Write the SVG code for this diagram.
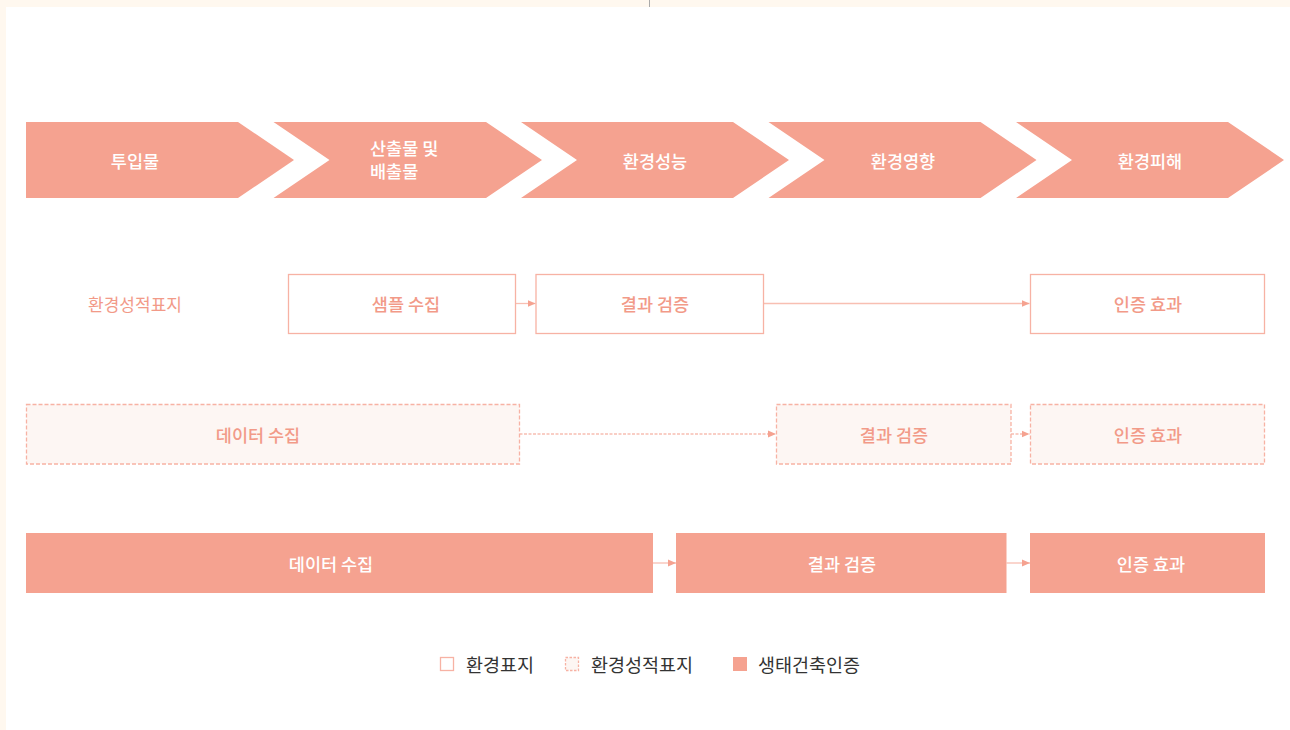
<svg xmlns="http://www.w3.org/2000/svg" width="1290" height="730" viewBox="0 0 1290 730">
<style>
text{font-family:"Noto Sans CJK KR","Noto Sans",sans-serif;text-anchor:middle;dominant-baseline:central}
.chev{fill:#f5a290}
.ct{fill:#fff;font-size:17.5px;font-weight:500}
.ob{fill:#fff;stroke:#f7b2a4;stroke-width:1.3}
.db{fill:#fdf6f3;stroke:#f7b2a4;stroke-width:1.3;stroke-dasharray:4 2}
.fb{fill:#f5a290}
.ot{fill:#f29a88;font-size:17.5px;font-weight:500}
.lbl{fill:#f29a88;font-size:17px}
.ft{fill:#fff;font-size:17.5px;font-weight:500}
.lt{fill:#333;font-size:18.5px;text-anchor:start}
.cn{stroke:#f8bfb2;stroke-width:1.3;fill:none}
.cnd{stroke:#f8bfb2;stroke-width:1.3;fill:none;stroke-dasharray:3 1.5}
</style>
<defs>
<marker id="ah" viewBox="0 0 8 8" refX="8" refY="4" markerWidth="8" markerHeight="8" markerUnits="userSpaceOnUse" orient="auto">
<path d="M0,0.5 L8,4 L0,7.5 Z" fill="#f5a290"/>
</marker>
</defs>
<rect x="0" y="0" width="1290" height="730" fill="#fff8ef"/>
<rect x="6" y="7" width="1284" height="723" fill="#fff"/>
<line x1="649.5" y1="0" x2="649.5" y2="7" stroke="#aaa" stroke-width="1"/>

<g id="chev1"><polygon class="chev" points="26,122 238,122 294,160 238,198 26,198"/><text class="ct" x="135" y="160">투입물</text></g>
<g id="chev2"><polygon class="chev" points="273.5,122 486,122 542,160 486,198 273.5,198 329.5,160"/><text class="ct" x="370" y="147" style="text-anchor:start">산출물 및</text><text class="ct" x="370" y="170.5" style="text-anchor:start">배출물</text></g>
<g id="chev3"><polygon class="chev" points="521,122 733,122 789,160 733,198 521,198 577,160"/><text class="ct" x="655" y="160">환경성능</text></g>
<g id="chev4"><polygon class="chev" points="768.5,122 980.5,122 1036.5,160 980.5,198 768.5,198 824.5,160"/><text class="ct" x="903" y="160">환경영향</text></g>
<g id="chev5"><polygon class="chev" points="1016,122 1228,122 1284,160 1228,198 1016,198 1072,160"/><text class="ct" x="1150" y="160">환경피해</text></g>

<g id="row1label"><text class="lbl" x="135" y="303">환경성적표지</text></g>

<g id="connectors">
<line class="cn" x1="516" y1="303.5" x2="535.5" y2="303.5" marker-end="url(#ah)"/>
<line class="cn" x1="763.5" y1="303.5" x2="1029.5" y2="303.5" marker-end="url(#ah)"/>
<line class="cnd" x1="519.5" y1="434" x2="776" y2="434" marker-end="url(#ah)"/>
<line class="cnd" x1="1011" y1="434" x2="1029.5" y2="434" marker-end="url(#ah)"/>
<line class="cn" x1="653" y1="563" x2="676" y2="563" marker-end="url(#ah)"/>
<line class="cn" x1="1006.5" y1="563" x2="1030" y2="563" marker-end="url(#ah)"/>
</g>

<g id="r1b1"><rect class="ob" x="288.5" y="274.5" width="227" height="59"/><text class="ot" x="406" y="303.5">샘플 수집</text></g>
<g id="r1b2"><rect class="ob" x="536" y="274.5" width="227.5" height="59"/><text class="ot" x="655" y="303.5">결과 검증</text></g>
<g id="r1b3"><rect class="ob" x="1030.5" y="274.5" width="234" height="59"/><text class="ot" x="1148" y="303.5">인증 효과</text></g>

<g id="r2b1"><rect class="db" x="26.5" y="404.5" width="493" height="59.5"/><text class="ot" x="258" y="434">데이터 수집</text></g>
<g id="r2b2"><rect class="db" x="776.5" y="404.5" width="234.5" height="59.5"/><text class="ot" x="894" y="434">결과 검증</text></g>
<g id="r2b3"><rect class="db" x="1030.5" y="404.5" width="234" height="59.5"/><text class="ot" x="1148" y="434">인증 효과</text></g>

<g id="r3b1"><rect class="fb" x="26" y="533" width="627" height="60"/><text class="ft" x="331" y="563">데이터 수집</text></g>
<g id="r3b2"><rect class="fb" x="676" y="533" width="330.5" height="60"/><text class="ft" x="842" y="563">결과 검증</text></g>
<g id="r3b3"><rect class="fb" x="1030" y="533" width="235" height="60"/><text class="ft" x="1151" y="563">인증 효과</text></g>

<g id="legend">
<rect x="440.5" y="657.5" width="13" height="13" fill="#fff" stroke="#f7b2a4" stroke-width="1.3"/>
<text class="lt" x="466" y="664">환경표지</text>
<rect x="565.5" y="657.5" width="13" height="13" fill="#fdf6f3" stroke="#f7b2a4" stroke-width="1.3" stroke-dasharray="2.5 1.5"/>
<text class="lt" x="591" y="664">환경성적표지</text>
<rect x="733" y="657" width="14" height="14" fill="#f5a290"/>
<text class="lt" x="758" y="664">생태건축인증</text>
</g>
</svg>
